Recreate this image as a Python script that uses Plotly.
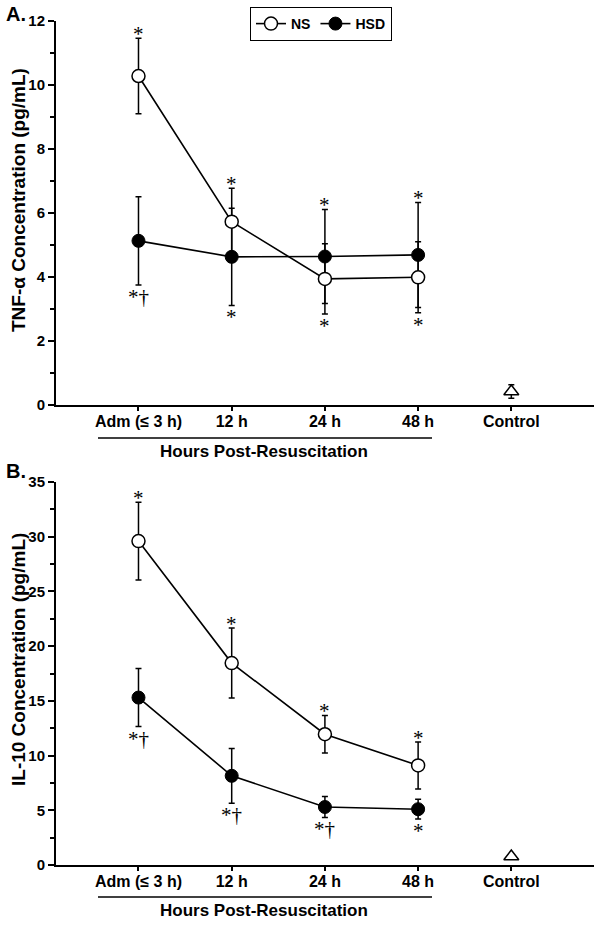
import plotly.graph_objects as go
from plotly.subplots import make_subplots

# ---------------- data ----------------
categories = ["Adm (≤ 3 h)", "12 h", "24 h", "48 h"]
control_label = ["Control"]
all_categories = categories + control_label

tnf_ns = [10.28, 5.73, 3.94, 3.99]
tnf_ns_err = [1.18, 1.04, 1.10, 1.11]
tnf_hsd = [5.13, 4.63, 4.64, 4.69]
tnf_hsd_err = [1.38, 1.52, 1.47, 1.64]
tnf_control = [0.42]
tnf_control_err = [0.21]

il10_ns = [29.6, 18.45, 11.95, 9.1]
il10_ns_err = [3.55, 3.2, 1.72, 2.15]
il10_hsd = [15.3, 8.15, 5.3, 5.1]
il10_hsd_err = [2.65, 2.5, 0.95, 0.9]
il10_control = [0.78]
il10_control_err = [0.1]

tnf_ns_sig = ["*", "*", "*", "*"]
tnf_ns_side = ["above", "above", "below", "below"]
tnf_hsd_sig = ["*†", "*", "*", "*"]
tnf_hsd_side = ["below", "below", "above", "above"]

il10_ns_sig = ["*", "*", "*", "*"]
il10_ns_side = ["above", "above", "above", "above"]
il10_hsd_sig = ["*†", "*†", "*†", "*"]
il10_hsd_side = ["below", "below", "below", "below"]

y_title_top = "TNF-α Concentration (pg/mL)"
y_title_bottom = "IL-10 Concentration (pg/mL)"
x_group_title = "Hours Post-Resuscitation"

# ---------------- figure ----------------
fig = make_subplots(rows=2, cols=1, shared_xaxes=False, vertical_spacing=0.09)

BLACK = "black"
ebar = dict(type="data", visible=True, color=BLACK, thickness=1.5, width=3)


def add_panel(row, ns, ns_err, hsd, hsd_err, ctrl, ctrl_err, show_legend):
    fig.add_trace(go.Scatter(
        x=categories, y=hsd, name="HSD", mode="lines+markers",
        line=dict(color=BLACK, width=1.6),
        marker=dict(symbol="circle", size=13, color=BLACK, line=dict(color=BLACK, width=1)),
        error_y=dict(array=hsd_err, **ebar), showlegend=show_legend, cliponaxis=False,
    ), row=row, col=1)
    fig.add_trace(go.Scatter(
        x=categories, y=ns, name="NS", mode="lines+markers",
        line=dict(color=BLACK, width=1.6),
        marker=dict(symbol="circle", size=13, color="white", line=dict(color=BLACK, width=1.5)),
        error_y=dict(array=ns_err, **ebar), showlegend=show_legend, cliponaxis=False,
    ), row=row, col=1)
    fig.add_trace(go.Scatter(
        x=control_label, y=ctrl, name="Control", mode="markers",
        marker=dict(symbol="triangle-up", size=13, color="white", line=dict(color=BLACK, width=1.5)),
        error_y=dict(array=ctrl_err, **ebar), showlegend=False, cliponaxis=False,
    ), row=row, col=1)


add_panel(1, tnf_ns, tnf_ns_err, tnf_hsd, tnf_hsd_err, tnf_control, tnf_control_err, True)
add_panel(2, il10_ns, il10_ns_err, il10_hsd, il10_hsd_err, il10_control, il10_control_err, False)

annotations = []
SIG_FONT = dict(family="Liberation Serif", size=21, color=BLACK)


def add_sig(xref, yref, vals, errs, sigs, sides):
    for cat, v, e, s, side in zip(categories, vals, errs, sigs, sides):
        if side == "above":
            annotations.append(dict(
                x=cat, y=v + e, xref=xref, yref=yref, text=s, showarrow=False,
                yanchor="bottom", yshift=-10, font=SIG_FONT))
        else:
            annotations.append(dict(
                x=cat, y=v - e, xref=xref, yref=yref, text=s, showarrow=False,
                yanchor="top", yshift=2, font=SIG_FONT))


add_sig("x", "y", tnf_ns, tnf_ns_err, tnf_ns_sig, tnf_ns_side)
add_sig("x", "y", tnf_hsd, tnf_hsd_err, tnf_hsd_sig, tnf_hsd_side)
add_sig("x2", "y2", il10_ns, il10_ns_err, il10_ns_sig, il10_ns_side)
add_sig("x2", "y2", il10_hsd, il10_hsd_err, il10_hsd_sig, il10_hsd_side)

bold = dict(family="Liberation Sans", color=BLACK, weight="bold")

W, H = 600, 926
ML, MR, MT, MB = 56, 6, 21, 61
PW, PH = W - ML - MR, H - MT - MB


def px_x(px):
    return (px - ML) / PW


def px_y(py):
    return (H - MB - py) / PH


# panel letters
for letter, ly in (("A.", 14), ("B.", 471)):
    annotations.append(dict(x=px_x(16), y=px_y(ly), xref="paper", yref="paper", text=letter,
                            showarrow=False, xanchor="center", yanchor="middle",
                            font=dict(size=20, **bold)))

# y-axis titles
annotations.append(dict(x=px_x(18), y=px_y(200), xref="paper", yref="paper", text=y_title_top,
                        textangle=-90, showarrow=False, xanchor="center", yanchor="middle",
                        font=dict(size=19, **bold)))
annotations.append(dict(x=px_x(18), y=px_y(660), xref="paper", yref="paper", text=y_title_bottom,
                        textangle=-90, showarrow=False, xanchor="center", yanchor="middle",
                        font=dict(size=19, **bold)))

# group titles
for ty in (451, 910):
    annotations.append(dict(x=px_x(264), y=px_y(ty), xref="paper", yref="paper", text=x_group_title,
                            showarrow=False, xanchor="center", yanchor="middle",
                            font=dict(size=17, **bold)))

shapes = []
for ly in (438, 897):
    shapes.append(dict(type="line", xref="paper", yref="paper", x0=px_x(98), x1=px_x(432),
                       y0=px_y(ly), y1=px_y(ly), line=dict(color=BLACK, width=1.5)))

fig.update_layout(
    width=W, height=H,
    margin=dict(l=ML, r=MR, t=MT, b=MB, autoexpand=False),
    plot_bgcolor="white", paper_bgcolor="white",
    annotations=annotations, shapes=shapes,
    legend=dict(orientation="h", x=px_x(321), y=px_y(7), xanchor="center", yanchor="top",
                bordercolor=BLACK, borderwidth=1, bgcolor="white",
                font=dict(size=14, **bold), traceorder="reversed", itemwidth=30,
                itemclick=False, tracegroupgap=0),
    font=dict(family="Liberation Sans", color=BLACK),
)

xaxis_common = dict(
    type="category", categoryorder="array", categoryarray=all_categories,
    range=[-0.885, 4.887], showline=True, linecolor=BLACK, linewidth=2,
    ticks="outside", ticklen=4, tickwidth=1.5, tickcolor=BLACK, showgrid=False,
    zeroline=False, tickfont=dict(size=16, **bold), automargin=False,
    ticklabelstandoff=-3,
)
fig.update_xaxes(**xaxis_common)

yaxis_common = dict(
    showline=True, linecolor=BLACK, linewidth=2, ticks="outside", ticklen=6,
    tickwidth=1.5, tickcolor=BLACK, showgrid=False, zeroline=False,
    tickfont=dict(size=15, **bold), automargin=False,
)
fig.update_yaxes(range=[0, 12], dtick=2, tick0=0,
                 minor=dict(dtick=1, ticks="outside", ticklen=4, tickwidth=1.5, tickcolor=BLACK, showgrid=False),
                 domain=[px_y(405), 1.0], row=1, col=1, **yaxis_common)
fig.update_yaxes(range=[0, 35], dtick=5, tick0=0,
                 minor=dict(dtick=2.5, ticks="outside", ticklen=4, tickwidth=1.5, tickcolor=BLACK, showgrid=False),
                 domain=[0.0, px_y(482)], row=2, col=1, **yaxis_common)

fig.write_html(
    "out.html",
    config={"displayModeBar": False},
    post_script="document.body.style.margin='0';document.body.style.padding='0';",
)
